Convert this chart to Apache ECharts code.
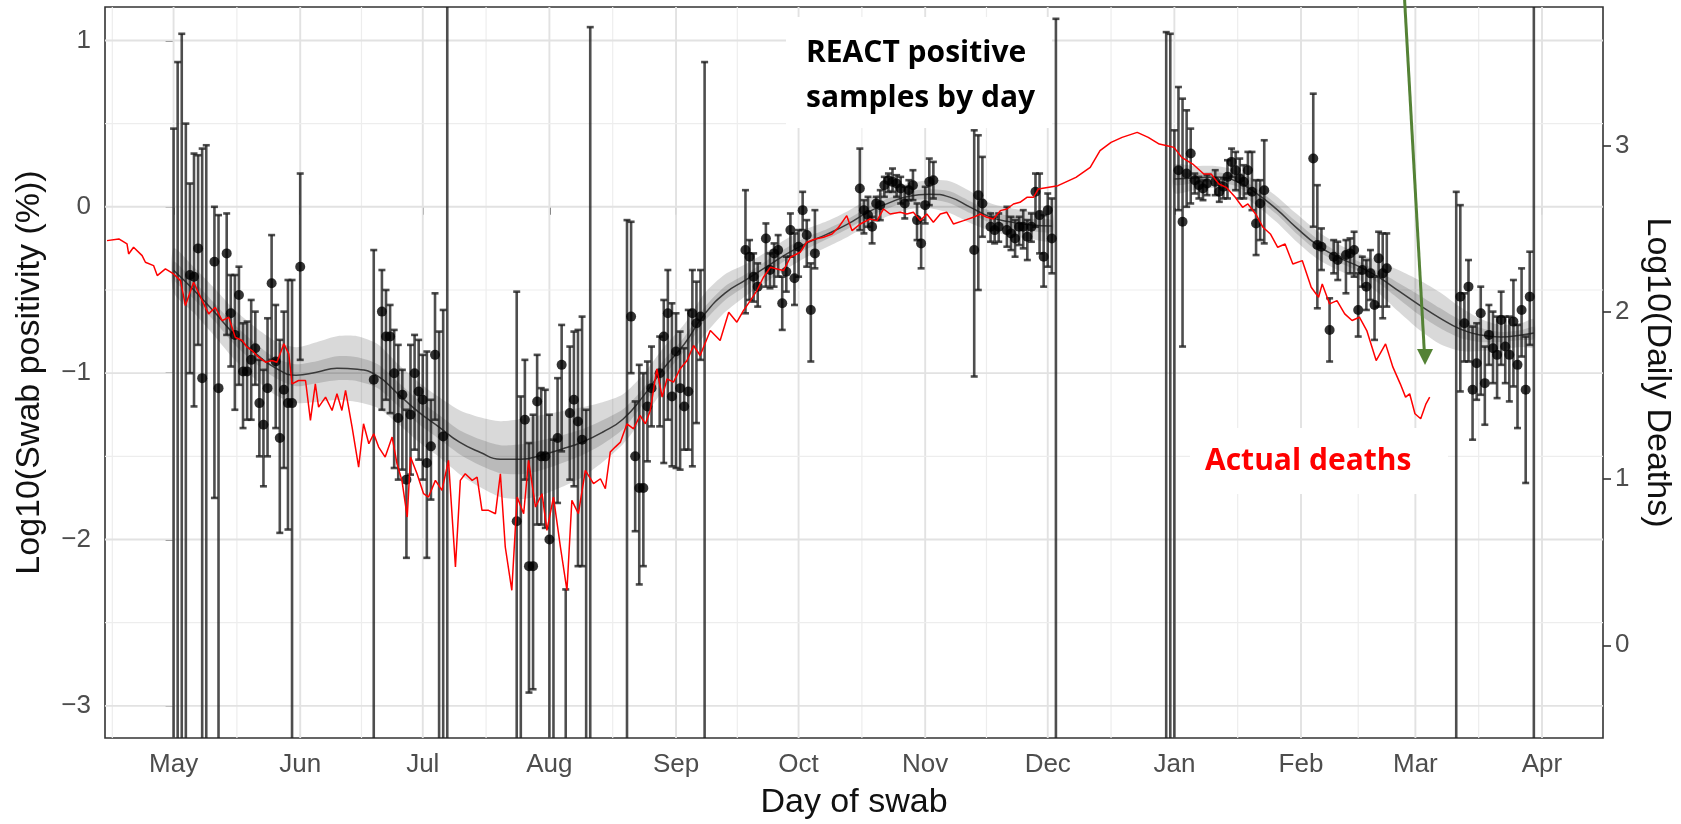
<!DOCTYPE html>
<html><head><meta charset="utf-8">
<script src="https://cdn.jsdelivr.net/npm/echarts@6/dist/echarts.min.js"></script>
<style>html,body{margin:0;padding:0;background:#fff}#c{width:1681px;height:824px}</style>
</head><body><div id="c"></div>
<script>
// ---- axes (x = days since 2020-05-01) ----
const monthLabels = ['May','Jun','Jul','Aug','Sep','Oct','Nov','Dec','Jan','Feb','Mar','Apr'];
const monthDays = [0,31,61,92,123,153,184,214,245,276,304,335];
const minorDays = [-15,15.5,46,76.5,107.5,138,168.5,199,229.5,260.5,290,319.5];
const leftTicks = [-3,-2,-1,0,1];
const leftMinor = [-2.5,-1.5,-0.5,0.5];
const rightTicks = [0,1,2,3];

// ---- daily positivity: [day, log10 %, lower, upper]; null lower/upper = beyond panel ----
const round1 = [[0,null,null,0.47],[1,null,null,0.87],[2,null,null,1.04],[3,null,null,0.50],
[4,-0.41,-1.00,0.14],[5,-0.42,-1.20,0.32],[6,-0.25,-0.83,0.31],[7,-1.03,null,0.35],
[8,null,null,0.37],[10,-0.33,-1.75,0.00],[11,-1.09,null,-0.05],[13,-0.28,-0.77,-0.04],
[14,-0.64,-0.96,-0.41],[15,-0.77,-1.22,-0.41],[16,-0.53,-1.07,-0.36],[17,-0.99,-1.33,-0.70],
[18,-0.99,-1.28,-0.69],[19,-0.92,-1.28,-0.56],[20,-0.85,-1.07,-0.63],[21,-1.18,-1.50,-0.92],
[22,-1.31,-1.68,-0.98],[23,-1.09,-1.50,-0.67],[24,-0.46,-0.92,-0.17],[25,-0.93,-1.33,-0.59],
[26,-1.39,-1.96,-0.80],[27,-1.10,-1.57,-0.63],[28,-1.18,-1.94,-0.44],[29,-1.18,null,-0.44],
[31,-0.36,-0.92,0.20]];
const round2 = [[49,-1.04,null,-0.26],[51,-0.63,-1.22,-0.38],[52,-0.78,-1.16,-0.50],[53,-0.78,-1.24,-0.59],
[54,-1.00,-1.57,-0.74],[55,-1.27,-1.64,-0.83],[56,-1.13,-1.58,-0.98],[57,-1.64,-2.11,-1.22],
[58,-1.25,-1.61,-0.83],[59,-1.00,-1.46,-0.77],[60,-1.11,-1.52,-0.80],[61,-1.16,-1.64,-0.89],
[62,-1.54,-2.11,-0.87],[63,-1.44,-1.76,-1.16],[64,-0.89,-1.28,-0.52],[65,null,null,-0.75],
[66,-1.38,null,-0.62],[67,null,null,null]];
const round3 = [[84,-1.89,null,-0.51],[85,null,null,-1.14],[86,-1.28,-1.64,-0.92],[87,-2.16,-2.92,-1.42],
[88,-2.16,-2.90,-1.25],[89,-1.17,-1.91,-0.89],[90,-1.50,-1.91,-1.09],[91,-1.50,-1.93,-1.10],
[92,-2.00,null,-1.25],[93,null,null,-1.40],[94,-1.39,-1.78,-1.03],[95,-0.95,-1.47,-0.71],
[96,null,null,-2.30],[97,-1.24,-1.64,-0.84],[98,-1.16,-1.68,-0.75],[99,-1.29,-2.16,-0.74],
[100,-1.40,-2.16,-0.66],[101,null,null,-1.22],[102,null,null,1.08]];
const round4 = [[111,null,null,-0.08],[112,-0.66,-1.00,-0.09],[113,-1.50,-1.95,-1.17],[114,-1.69,-2.27,-0.95],
[115,-1.69,-2.16,-1.00],[116,-1.20,-1.53,-0.93],[117,-1.09,-1.32,-0.84],[119,-1.00,-1.32,-0.78],
[120,-0.78,-1.54,-0.56],[121,-0.64,-1.28,-0.38],[122,-1.14,-1.56,-0.58],[123,-0.87,-1.57,-0.64],
[124,-1.09,-1.58,-0.75],[125,-1.20,-1.46,-0.85],[126,-1.11,-1.46,-0.62],[127,-0.64,-1.56,-0.38],
[128,-0.70,-1.30,-0.45],[129,-0.66,-0.92,-0.38],[130,null,null,0.87]];
const round5 = [[140,-0.26,-0.64,0.10],[141,-0.30,-0.56,-0.20],[142,-0.42,-0.57,-0.28],[143,-0.48,-0.60,-0.34],
[145,-0.19,-0.48,-0.10],[146,-0.38,-0.49,-0.28],[147,-0.28,-0.48,-0.22],[148,-0.26,-0.42,-0.17],
[149,-0.58,-0.74,-0.42],[150,-0.39,-0.51,-0.30],[151,-0.14,-0.30,-0.04],[152,-0.43,-0.59,-0.16],
[153,-0.24,-0.42,-0.14],[154,-0.02,-0.14,0.09],[155,-0.17,-0.36,-0.08],[156,-0.62,-0.93,-0.34],
[157,-0.28,-0.37,-0.02]];
const round6 = [[168,0.11,-0.14,0.35],[169,-0.02,-0.16,0.04],[170,-0.05,-0.12,0.06],[171,-0.12,-0.22,-0.06],
[172,0.02,-0.08,0.06],[173,0.01,-0.08,0.10],[174,0.13,0.06,0.18],[175,0.16,0.09,0.20],
[176,0.15,0.09,0.23],[177,0.14,0.06,0.19],[178,0.11,0.02,0.18],[179,0.02,-0.07,0.12],
[180,0.10,0.04,0.16],[181,0.13,0.04,0.22],[182,-0.08,-0.20,0.02],[183,-0.22,-0.37,-0.08],
[184,0.01,-0.10,0.12],[185,0.15,0.01,0.29],[186,0.16,0.05,0.27]];
const round7 = [[196,-0.26,-1.02,0.46],[197,0.07,-0.50,0.43],[198,0.02,-0.18,0.30],[200,-0.12,-0.21,-0.04],
[201,-0.14,-0.22,-0.06],[202,-0.12,-0.21,-0.04],[204,-0.14,-0.24,0.00],[205,-0.16,-0.26,-0.06],
[206,-0.19,-0.30,-0.08],[207,-0.12,-0.23,-0.06],[208,-0.12,-0.25,-0.02],[209,-0.18,-0.32,-0.08],
[210,-0.12,-0.21,-0.04],[211,0.09,-0.12,0.20],[212,-0.05,-0.28,0.20],[213,-0.30,-0.48,-0.05],
[214,-0.02,-0.36,0.08],[215,-0.19,-0.40,0.05],[216,null,null,1.13]];
const round8 = [[243,null,null,1.05],[244,null,null,1.04],[245,null,null,0.46],[246,0.22,-0.02,0.72],
[247,-0.09,-0.84,0.65],[248,0.20,0.00,0.58],[249,0.32,0.02,0.47],[250,0.16,0.08,0.20],
[251,0.13,0.05,0.18],[252,0.11,0.04,0.16],[253,0.14,0.07,0.19],[255,0.15,0.07,0.22],
[256,0.09,0.03,0.15],[257,0.12,0.05,0.17],[258,0.18,0.05,0.28],[259,0.27,0.18,0.35],
[260,0.22,0.10,0.33],[261,0.17,0.05,0.29],[262,0.15,0.05,0.25],[263,0.22,0.08,0.33],
[264,0.09,-0.02,0.33],[265,-0.10,-0.29,0.16],[266,0.02,-0.20,0.16],[267,0.10,-0.22,0.40]];
const round9 = [[279,0.29,-0.12,0.68],[280,-0.23,-0.61,0.13],[281,-0.24,-0.38,-0.13],[283,-0.74,-0.93,-0.55],
[284,-0.30,-0.40,-0.20],[285,-0.32,-0.44,-0.21],[287,-0.29,-0.52,-0.20],[288,-0.28,-0.40,-0.19],
[289,-0.26,-0.42,-0.15],[290,-0.62,-0.78,-0.40],[291,-0.38,-0.48,-0.30],[292,-0.48,-0.62,-0.32],
[293,-0.40,-0.56,-0.26],[294,-0.59,-0.80,-0.42],[295,-0.31,-0.60,-0.15],[296,-0.40,-0.67,-0.16],
[297,-0.37,-0.60,-0.16]];
const round10 = [[314,null,null,0.09],[315,-0.54,-1.11,0.01],[316,-0.70,-0.93,-0.52],[317,-0.48,-0.93,-0.32],
[318,-1.10,-1.40,-0.72],[319,-0.94,-1.16,-0.70],[320,-0.64,-1.13,-0.48],[321,-1.06,-1.31,-0.84],
[322,-0.77,-0.95,-0.59],[323,-0.85,-1.06,-0.63],[324,-0.89,-1.15,-0.66],[325,-0.68,-0.95,-0.51],
[326,-0.84,-1.06,-0.66],[327,-0.89,-1.17,-0.66],[328,-0.69,-1.08,-0.44],[329,-0.95,-1.33,-0.71],
[330,-0.62,-0.90,-0.37],[331,-1.10,-1.66,-0.78],[332,-0.54,-0.83,-0.27],[333,null,null,null]];

// ---- smoothed fit with bands ----
const fitDay1 = [0,5,10,15,20,25,30,35,40,45,50,55,60,65,70,75,80,85,90,95,100,105,110,115,120,125,130,135,140,145,150,155,160,165,170,175,180,185,190,195,200,205,210,215];
const fitMid1 = [-0.381,-0.501,-0.633,-0.771,-0.880,-0.970,-1.012,-0.994,-0.970,-0.976,-1.018,-1.126,-1.234,-1.324,-1.415,-1.475,-1.517,-1.517,-1.493,-1.457,-1.415,-1.355,-1.277,-1.138,-0.970,-0.826,-0.645,-0.519,-0.441,-0.363,-0.284,-0.218,-0.164,-0.104,-0.032,0.022,0.064,0.076,0.058,-0.002,-0.062,-0.092,-0.110,-0.116];
const fitOuterLo1 = [-0.513,-0.639,-0.777,-0.921,-1.036,-1.132,-1.180,-1.174,-1.162,-1.174,-1.210,-1.306,-1.414,-1.504,-1.607,-1.685,-1.745,-1.758,-1.734,-1.685,-1.625,-1.535,-1.427,-1.270,-1.096,-0.946,-0.771,-0.633,-0.537,-0.453,-0.374,-0.302,-0.242,-0.182,-0.110,-0.056,-0.014,-0.008,-0.038,-0.098,-0.146,-0.176,-0.194,-0.206];
const fitOuterHi1 = [-0.249,-0.363,-0.489,-0.621,-0.724,-0.808,-0.844,-0.814,-0.778,-0.778,-0.826,-0.946,-1.054,-1.144,-1.223,-1.265,-1.289,-1.276,-1.252,-1.229,-1.205,-1.175,-1.127,-1.006,-0.844,-0.706,-0.519,-0.405,-0.345,-0.273,-0.194,-0.134,-0.086,-0.026,0.046,0.100,0.142,0.160,0.154,0.094,0.022,-0.008,-0.026,-0.026];
const fitInnerLo1 = [-0.435,-0.555,-0.687,-0.831,-0.940,-1.030,-1.078,-1.060,-1.042,-1.048,-1.090,-1.198,-1.306,-1.396,-1.487,-1.553,-1.601,-1.607,-1.583,-1.541,-1.493,-1.427,-1.337,-1.186,-1.018,-0.868,-0.687,-0.561,-0.477,-0.399,-0.320,-0.254,-0.194,-0.134,-0.062,-0.008,0.034,0.046,0.022,-0.038,-0.098,-0.128,-0.146,-0.152];
const fitInnerHi1 = [-0.327,-0.447,-0.579,-0.711,-0.820,-0.910,-0.946,-0.928,-0.898,-0.904,-0.946,-1.054,-1.162,-1.252,-1.343,-1.397,-1.433,-1.427,-1.403,-1.373,-1.337,-1.283,-1.217,-1.090,-0.922,-0.784,-0.603,-0.477,-0.405,-0.327,-0.248,-0.182,-0.134,-0.074,-0.002,0.052,0.094,0.106,0.094,0.034,-0.026,-0.056,-0.074,-0.080];
const fitDay2 = [245,250,255,260,265,270,275,280,285,290,295,300,305,310,315,320,325,330,333];
const fitMid2 = [0.167,0.173,0.179,0.155,0.082,-0.014,-0.128,-0.230,-0.302,-0.357,-0.423,-0.507,-0.591,-0.669,-0.735,-0.771,-0.783,-0.771,-0.759];
const fitOuterLo2 = [0.083,0.101,0.113,0.089,0.010,-0.092,-0.212,-0.314,-0.380,-0.435,-0.519,-0.633,-0.741,-0.825,-0.867,-0.867,-0.855,-0.843,-0.843];
const fitOuterHi2 = [0.251,0.245,0.245,0.221,0.154,0.064,-0.044,-0.146,-0.224,-0.279,-0.327,-0.381,-0.441,-0.513,-0.603,-0.675,-0.711,-0.699,-0.675];
const fitInnerLo2 = [0.131,0.143,0.149,0.125,0.052,-0.044,-0.164,-0.266,-0.332,-0.387,-0.459,-0.555,-0.651,-0.729,-0.789,-0.813,-0.813,-0.801,-0.795];
const fitInnerHi2 = [0.203,0.203,0.209,0.185,0.112,0.016,-0.092,-0.194,-0.272,-0.327,-0.387,-0.459,-0.531,-0.609,-0.681,-0.729,-0.753,-0.741,-0.723];

// ---- actual deaths, log10 (right axis) ----
const deathDay = [-16.3,-13.4,-11.4,-11.0,-9.8,-7.7,-6.9,-4.9,-4.0,-2.0,0.0,1.7,2.9,4.9,7.0,8.6,10.2,11.9,13.5,15.1,16.8,18.0,19.2,20.8,22.5,24.1,25.3,27.0,28.2,29.0,30.6,32.3,33.5,34.7,35.5,37.2,38.8,40.0,41.2,42.1,43.7,45.3,46.5,47.8,49.0,50.2,51.8,53.5,54.7,55.9,57.2,58.0,59.6,61.2,62.4,64.1,65.7,67.3,69.0,70.2,71.4,73.1,74.3,75.5,77.1,78.8,80.0,81.2,82.8,84.1,85.7,86.9,88.6,90.2,91.4,93.0,94.7,96.3,97.5,99.1,100.8,102.8,104.5,105.7,106.9,108.1,109.4,111.0,112.6,114.2,115.5,116.7,118.3,119.6,120.8,122.4,124.0,125.7,127.3,128.9,131.4,133.8,135.9,137.9,139.5,141.2,142.8,144.4,146.1,147.7,149.3,151.0,153.4,155.0,157.1,159.1,161.2,162.8,164.8,166.1,168.1,170.5,172.2,173.8,175.4,177.9,179.5,181.1,182.8,184.4,186.0,187.7,189.3,190.9,193.4,195.8,197.5,199.1,200.7,202.4,204.0,205.6,207.2,208.9,210.5,211.7,216.5,220.9,224.4,226.8,229.5,232.2,235.9,238.6,241.3,243.2,244.9,246.8,249.5,252.2,254.0,255.9,257.7,259.9,261.7,263.0,264.9,266.7,268.5,270.3,272.1,274.0,276.3,278.5,280.3,281.2,283.0,284.8,286.7,288.5,290.3,292.1,294.4,296.7,298.5,300.3,301.6,302.6,303.9,305.3,306.6,307.5];
const deathLog = [2.43,2.44,2.41,2.35,2.39,2.34,2.30,2.28,2.22,2.26,2.23,2.19,2.04,2.18,2.07,1.99,2.03,1.95,1.97,1.85,1.83,1.79,1.77,1.73,1.70,1.71,1.70,1.81,1.75,1.57,1.59,1.59,1.35,1.57,1.43,1.49,1.41,1.51,1.41,1.53,1.31,1.07,1.33,1.21,1.27,1.19,1.13,1.25,1.09,0.99,0.77,1.13,1.03,0.91,0.89,0.99,0.93,1.11,0.47,0.99,1.03,0.99,1.01,0.81,0.81,0.79,1.03,0.59,0.33,0.89,0.79,1.11,0.83,0.91,0.69,0.89,0.59,0.33,0.87,0.79,1.05,0.97,1.00,0.94,1.16,1.19,1.22,1.33,1.30,1.38,1.33,1.41,1.66,1.49,1.60,1.58,1.66,1.71,1.80,1.74,1.89,1.83,2.00,1.94,2.01,2.07,2.13,2.21,2.27,2.26,2.25,2.33,2.36,2.42,2.44,2.45,2.47,2.51,2.58,2.49,2.53,2.56,2.55,2.62,2.59,2.60,2.59,2.60,2.55,2.59,2.54,2.59,2.60,2.53,2.55,2.57,2.59,2.57,2.56,2.61,2.62,2.65,2.66,2.69,2.69,2.74,2.76,2.81,2.87,2.97,3.02,3.05,3.08,3.05,3.01,3.00,2.99,2.93,2.89,2.83,2.83,2.77,2.75,2.69,2.63,2.65,2.59,2.51,2.47,2.39,2.41,2.29,2.31,2.15,2.09,2.17,2.05,2.07,1.99,1.95,1.97,1.89,1.71,1.81,1.67,1.57,1.49,1.51,1.39,1.36,1.45,1.49];

// ---------------------------------------------------------
const allBars = [].concat(round1, round2, round3, round4, round5, round6, round7, round8, round9, round10);
const FONT = '"Liberation Sans", Arial, Helvetica, sans-serif';
const ANNOT = '"Open Sans", "Noto Sans", sans-serif';

const gridData = [];
monthDays.forEach(v => gridData.push([v, 0, 0]));
minorDays.forEach(v => gridData.push([v, 0, 1]));
leftTicks.forEach(v => gridData.push([0, v, 2]));
leftMinor.forEach(v => gridData.push([0, v, 3]));

function renderGrid(params, api) {
  const cs = params.coordSys;
  const kind = api.value(2);
  const major = (kind === 0 || kind === 2);
  const style = { stroke: major ? '#e2e2e2' : '#ededed', lineWidth: major ? 1.9 : 1.2 };
  if (kind < 2) {
    const x = api.coord([api.value(0), 0])[0];
    if (x < cs.x || x > cs.x + cs.width) return null;
    return { type: 'line', shape: { x1: x, y1: cs.y, x2: x, y2: cs.y + cs.height }, style };
  }
  const y = api.coord([0, api.value(1)])[1];
  return { type: 'line', shape: { x1: cs.x, y1: y, x2: cs.x + cs.width, y2: y }, style };
}

function bandRenderer(days, lo, hi, fill) {
  return function (params, api) {
    const pts = [];
    for (let k = 0; k < days.length; k++) pts.push(api.coord([days[k], hi[k]]));
    for (let k = days.length - 1; k >= 0; k--) pts.push(api.coord([days[k], lo[k]]));
    return { type: 'polygon', shape: { points: pts, smooth: 0.25 }, style: { fill } };
  };
}

function renderBar(params, api) {
  const b = allBars[api.value(1)];
  const cs = params.coordSys;
  const top = cs.y, bot = cs.y + cs.height;
  const x = api.coord([b[0], 0])[0];
  const yHi = b[3] === null ? top : Math.max(top, api.coord([b[0], b[3]])[1]);
  const yLo = b[2] === null ? bot : Math.min(bot, api.coord([b[0], b[2]])[1]);
  const st = { stroke: 'rgba(28,28,28,0.78)', lineWidth: 2.6 };
  const ch = [{ type: 'line', shape: { x1: x, y1: yHi, x2: x, y2: yLo }, style: st }];
  if (b[3] !== null && yHi > top) ch.push({ type: 'line', shape: { x1: x - 3.5, y1: yHi, x2: x + 3.5, y2: yHi }, style: st });
  if (b[2] !== null && yLo < bot) ch.push({ type: 'line', shape: { x1: x - 3.5, y1: yLo, x2: x + 3.5, y2: yLo }, style: st });
  return { type: 'group', children: ch };
}

const pointData = allBars.filter(b => b[1] !== null).map(b => [b[0], b[1]]);
const minusFmt = v => (v < 0 ? '\u2212' + (-v) : String(v));

const chart = echarts.init(document.getElementById('c'), null, { renderer: 'canvas', width: 1681, height: 824 });
chart.setOption({
  animation: false,
  backgroundColor: '#fff',
  grid: { left: 105, right: 78, top: 7, bottom: 86, show: true, borderColor: '#333', borderWidth: 1.6,
          backgroundColor: '#fff', containLabel: false, outerBoundsMode: 'none' },
  xAxis: {
    type: 'value', min: -16.79, max: 349.93,
    axisLine: { show: false },
    axisTick: { show: true, customValues: monthDays, length: 8, lineStyle: { color: '#333', width: 1.6 } },
    axisLabel: { customValues: monthDays, formatter: v => monthLabels[monthDays.indexOf(v)],
                 fontSize: 26, color: '#4d4d4d', fontFamily: FONT, margin: 14 },
    splitLine: { show: false },
    name: 'Day of swab', nameLocation: 'middle', nameGap: 48,
    nameTextStyle: { fontSize: 34, color: '#111', fontFamily: FONT }
  },
  yAxis: [{
    type: 'value', min: -3.193, max: 1.201, position: 'left',
    axisLine: { show: false },
    axisTick: { show: true, customValues: leftTicks, length: 8, lineStyle: { color: '#333', width: 1.6 } },
    axisLabel: { customValues: leftTicks, formatter: minusFmt, fontSize: 26, color: '#4d4d4d', fontFamily: FONT, margin: 14 },
    splitLine: { show: false },
    name: 'Log10(Swab positivity (%))', nameLocation: 'middle', nameGap: 58,
    nameTextStyle: { fontSize: 34, color: '#111', fontFamily: FONT }
  }, {
    type: 'value', min: -0.557, max: 3.833, position: 'right',
    axisLine: { show: false },
    axisTick: { show: true, customValues: rightTicks, length: 8, lineStyle: { color: '#333', width: 1.6 } },
    axisLabel: { customValues: rightTicks, fontSize: 26, color: '#4d4d4d', fontFamily: FONT, margin: 12 },
    splitLine: { show: false },
    name: 'Log10(Daily Deaths)', nameLocation: 'middle', nameGap: 32, nameRotate: -90,
    nameTextStyle: { fontSize: 34, color: '#111', fontFamily: FONT }
  }],
  series: [
    { type: 'custom', name: 'grid', renderItem: renderGrid, data: gridData, z: 1, silent: true },
    { type: 'custom', renderItem: bandRenderer(fitDay1, fitOuterLo1, fitOuterHi1, 'rgba(0,0,0,0.15)'), data: [[0, 0]], z: 2, silent: true },
    { type: 'custom', renderItem: bandRenderer(fitDay1, fitInnerLo1, fitInnerHi1, 'rgba(0,0,0,0.14)'), data: [[0, 0]], z: 2, silent: true },
    { type: 'custom', renderItem: bandRenderer(fitDay2, fitOuterLo2, fitOuterHi2, 'rgba(0,0,0,0.15)'), data: [[0, 0]], z: 2, silent: true },
    { type: 'custom', renderItem: bandRenderer(fitDay2, fitInnerLo2, fitInnerHi2, 'rgba(0,0,0,0.14)'), data: [[0, 0]], z: 2, silent: true },
    { type: 'line', data: fitDay1.map((d, i) => [d, fitMid1[i]]), smooth: true, showSymbol: false,
      lineStyle: { color: '#3a3a3a', width: 1.5 }, z: 3, silent: true },
    { type: 'line', data: fitDay2.map((d, i) => [d, fitMid2[i]]), smooth: true, showSymbol: false,
      lineStyle: { color: '#3a3a3a', width: 1.5 }, z: 3, silent: true },
    { type: 'custom', renderItem: renderBar, data: allBars.map((b, i) => [b[0], i]), z: 4, silent: true },
    { type: 'scatter', data: pointData, symbol: 'circle', symbolSize: 10, itemStyle: { color: '#000' }, z: 5, silent: true },
    { type: 'line', yAxisIndex: 1, data: deathDay.map((d, i) => [d, deathLog[i]]), showSymbol: false,
      lineStyle: { color: '#ff0000', width: 1.5 }, z: 6, silent: true }
  ],
  graphic: [
    { type: 'rect', z: 100, shape: { x: 786, y: 17, width: 266, height: 111 }, style: { fill: '#fff' } },
    { type: 'text', z: 101, style: { text: 'REACT positive', x: 806, y: 53, font: 'bold 30px ' + ANNOT, fill: '#000',
      textVerticalAlign: 'middle', verticalAlign: 'middle' } },
    { type: 'text', z: 101, style: { text: 'samples by day', x: 806, y: 98, font: 'bold 30px ' + ANNOT, fill: '#000',
      textVerticalAlign: 'middle', verticalAlign: 'middle' } },
    { type: 'rect', z: 100, shape: { x: 1190, y: 428, width: 258, height: 66 }, style: { fill: '#fff' } },
    { type: 'text', z: 101, style: { text: 'Actual deaths', x: 1205, y: 461, font: 'bold 30px ' + ANNOT, fill: '#ff0000',
      textVerticalAlign: 'middle', verticalAlign: 'middle' } },
    { type: 'line', z: 102, shape: { x1: 1404.6, y1: 0, x2: 1424.3, y2: 351 }, style: { stroke: '#548235', lineWidth: 3 } },
    { type: 'polygon', z: 102, shape: { points: [[1417, 349], [1433, 349], [1425, 365]] }, style: { fill: '#548235' } }
  ]
});
</script>
</body></html>
